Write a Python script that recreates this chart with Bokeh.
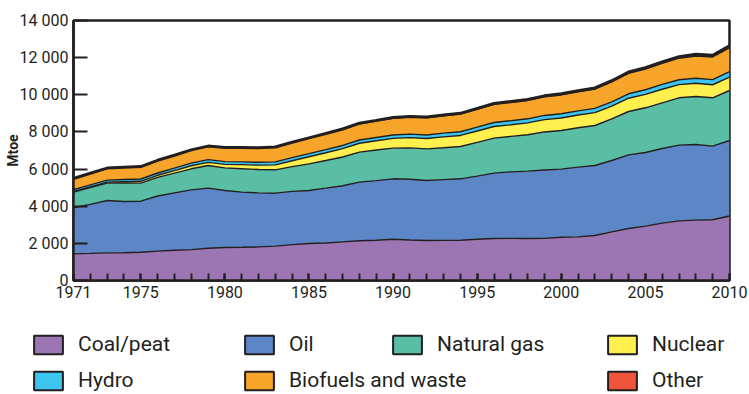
from bokeh.plotting import figure
from bokeh.layouts import column
from bokeh.models import (ColumnDataSource, FixedTicker, Legend, LegendItem, Range1d)
from bokeh.embed import file_html
from bokeh.resources import INLINE

# ---------------- data (Mtoe) ----------------
years = [1971, 1972, 1973, 1974, 1975, 1976, 1977, 1978, 1979, 1980,
         1981, 1982, 1983, 1984, 1985, 1986, 1987, 1988, 1989, 1990,
         1991, 1992, 1993, 1994, 1995, 1996, 1997, 1998, 1999, 2000,
         2001, 2002, 2003, 2004, 2005, 2006, 2007, 2008, 2009, 2010]

coal_peat = [1436, 1460, 1490, 1495, 1520, 1580, 1630, 1660, 1740, 1780,
             1790, 1810, 1850, 1930, 1990, 2020, 2080, 2140, 2170, 2220,
             2180, 2150, 2160, 2170, 2220, 2260, 2270, 2260, 2270, 2330,
             2350, 2420, 2620, 2800, 2930, 3090, 3210, 3250, 3270, 3470]

oil = [2484, 2640, 2818, 2755, 2751, 2970, 3090, 3222, 3232, 3066,
       2970, 2910, 2852, 2870, 2856, 2952, 3020, 3155, 3210, 3255,
       3270, 3235, 3270, 3305, 3400, 3520, 3580, 3627, 3680, 3665,
       3753, 3773, 3842, 3967, 3963, 4018, 4077, 4073, 3963, 4069]

natural_gas = [836, 900, 934, 1000, 971, 1000, 1060, 1132, 1221, 1221,
               1260, 1257, 1258, 1330, 1437, 1490, 1550, 1616, 1650, 1651,
               1690, 1705, 1720, 1741, 1820, 1885, 1910, 1958, 2050, 2082,
               2119, 2153, 2245, 2333, 2406, 2460, 2550, 2585, 2604, 2692]

nuclear = [29, 40, 53, 67, 100, 115, 140, 165, 170, 186,
           218, 234, 265, 320, 380, 415, 450, 480, 495, 525,
           555, 560, 585, 595, 610, 630, 625, 640, 665, 675,
           690, 695, 685, 715, 720, 730, 710, 712, 703, 719]

hydro = [104, 107, 110, 122, 124, 125, 128, 138, 143, 148,
         150, 153, 160, 164, 167, 170, 172, 176, 175, 184,
         189, 188, 198, 200, 212, 215, 218, 221, 223, 225,
         222, 226, 228, 240, 250, 259, 263, 273, 276, 296]

biofuels_waste = [600, 620, 640, 650, 660, 675, 690, 705, 720, 750,
                  760, 770, 790, 810, 830, 845, 860, 875, 890, 905,
                  915, 925, 935, 945, 960, 975, 985, 990, 1000, 1015,
                  1025, 1040, 1070, 1100, 1120, 1140, 1160, 1195, 1220, 1275]

other = [6, 6, 7, 7, 8, 8, 9, 10, 11, 12,
         13, 14, 15, 17, 20, 22, 25, 28, 32, 36,
         38, 40, 42, 44, 46, 48, 50, 52, 55, 60,
         62, 64, 66, 69, 72, 76, 82, 90, 95, 115]

series_keys = ["coal", "oil", "gas", "nuclear", "hydro", "bio", "other"]
series_labels = ["Coal/peat", "Oil", "Natural gas", "Nuclear", "Hydro",
                 "Biofuels and waste", "Other"]
series_colors = ["#9c76b2", "#5c86c5", "#5abea5", "#fff04f", "#3cc5ee",
                 "#f7a52a", "#ee553a"]

x_label_ticks = [1971, 1975, 1980, 1985, 1990, 1995, 2000, 2005, 2010]
y_ticks = [0, 2000, 4000, 6000, 8000, 10000, 12000, 14000]
y_tick_labels = ["0", "2 000", "4 000", "6 000", "8 000", "10 000", "12 000", "14 000"]

# ---------------- main chart ----------------
FONT = "Roboto"
INK = "#231f20"
W = 749

source = ColumnDataSource(dict(year=years, coal=coal_peat, oil=oil, gas=natural_gas,
                               nuclear=nuclear, hydro=hydro, bio=biofuels_waste,
                               other=other))

p = figure(width=W, height=310, output_backend="svg", toolbar_location=None,
           x_range=Range1d(1971, 2010), y_range=Range1d(0, 14000),
           min_border_left=73, min_border_right=20, min_border_top=20,
           min_border_bottom=30)
p.frame_align = False
p.grid.visible = False
p.outline_line_color = INK
p.outline_line_width = 2.5

p.varea_stack(stackers=series_keys, x="year", color=series_colors, source=source)
p.vline_stack(stackers=series_keys, x="year", color=INK,
              line_width=[1.4, 1.4, 1.4, 1.4, 1.4, 1.4, 3.0], source=source)

xa = p.xaxis[0]
xa.ticker = FixedTicker(ticks=x_label_ticks, minor_ticks=years)
xa.axis_line_color = INK
xa.axis_line_width = 2.5
xa.major_tick_in = 7
xa.major_tick_out = 0
xa.minor_tick_in = 7
xa.minor_tick_out = 0
xa.major_tick_line_color = INK
xa.minor_tick_line_color = INK
xa.major_tick_line_width = 2
xa.minor_tick_line_width = 2
xa.major_label_text_font = FONT
xa.major_label_text_font_size = "16px"
xa.major_label_text_color = INK
xa.major_label_standoff = 5

ya = p.yaxis[0]
ya.ticker = FixedTicker(ticks=y_ticks)
ya.major_label_overrides = {t: s for t, s in zip(y_ticks, y_tick_labels)}
ya.axis_line_color = INK
ya.axis_line_width = 2.5
ya.major_tick_in = 14
ya.major_tick_out = 0
ya.minor_tick_line_color = None
ya.major_tick_line_color = INK
ya.major_tick_line_width = 2
ya.major_label_text_font = FONT
ya.major_label_text_font_size = "16px"
ya.major_label_text_color = INK
ya.major_label_standoff = 5
ya.axis_label = "Mtoe"
ya.axis_label_standoff = -4
ya.axis_label_text_font = FONT
ya.axis_label_text_font_style = "bold"
ya.axis_label_text_font_size = "14px"
ya.axis_label_text_color = INK

# ---------------- legend panel ----------------
LH = 84
lg = figure(width=W, height=LH, output_backend="svg", toolbar_location=None,
            x_range=Range1d(0, W), y_range=Range1d(0, LH),
            x_axis_type=None, y_axis_type=None,
            min_border_left=0, min_border_right=0, min_border_top=0, min_border_bottom=0)
lg.frame_align = False
lg.grid.visible = False
lg.outline_line_color = None

nan = float("nan")
legend_pos = {
    "coal": (30, 38), "oil": (241, 38), "gas": (389, 38), "nuclear": (604, 38),
    "hydro": (30, 2), "bio": (241, 2), "other": (604, 2),
}
for key, label, color in zip(series_keys, series_labels, series_colors):
    r = lg.quad(left=[nan], right=[nan], top=[nan], bottom=[nan], fill_color=color,
                line_color=INK, line_width=2)
    leg = Legend(items=[LegendItem(label=label, renderers=[r])],
                 location=legend_pos[key], orientation="horizontal",
                 glyph_width=36, glyph_height=23, label_standoff=12,
                 label_text_font=FONT, label_text_font_size="21px",
                 label_text_color=INK, padding=0, margin=0, spacing=0,
                 border_line_color=None, background_fill_alpha=0)
    lg.add_layout(leg)

layout = column(p, lg, spacing=0)
open("out.html", "w").write(file_html(layout, INLINE))
